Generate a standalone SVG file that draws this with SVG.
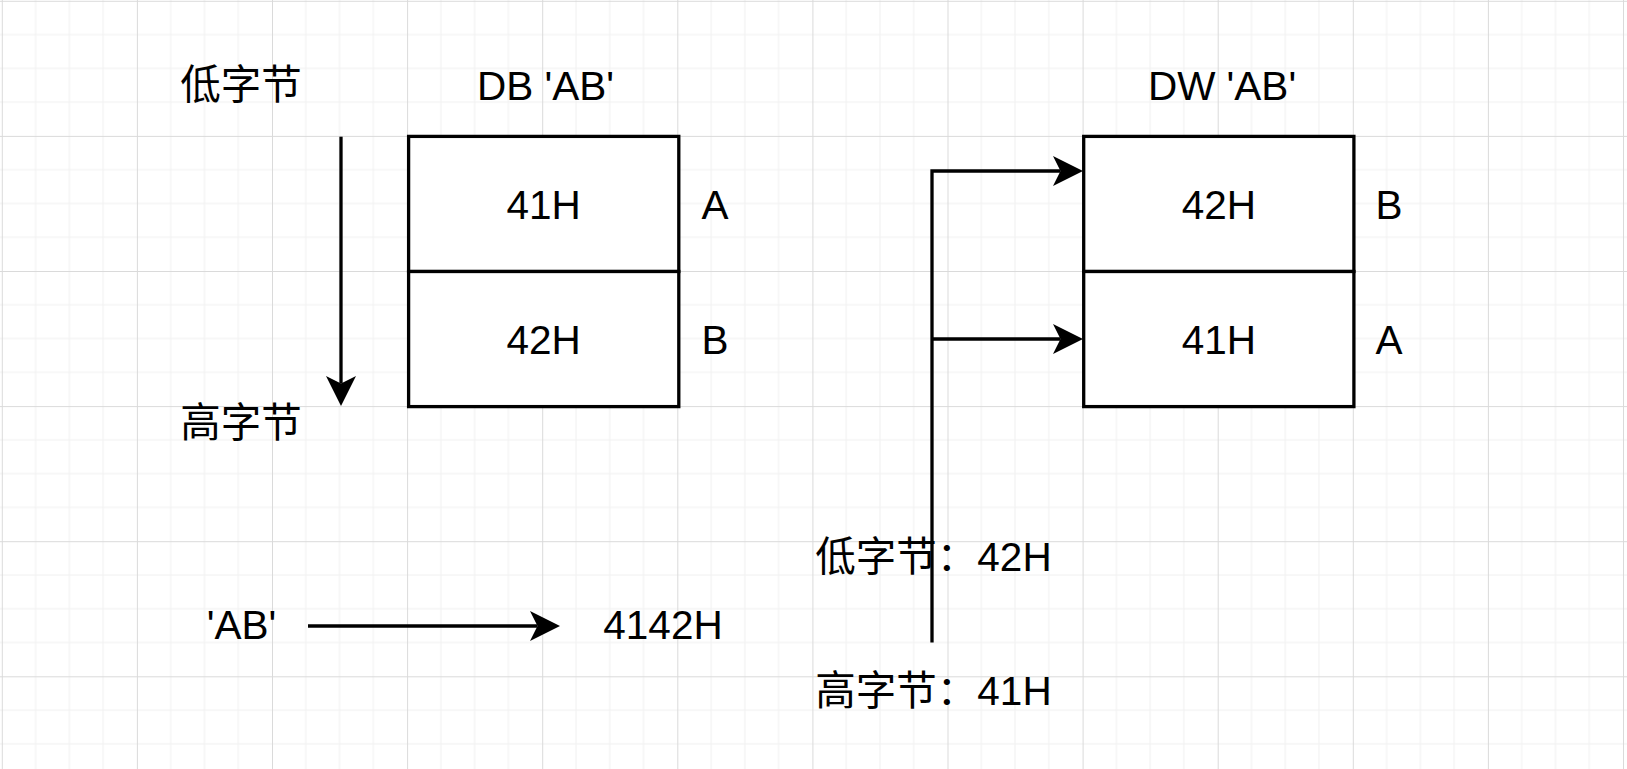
<svg xmlns="http://www.w3.org/2000/svg" width="1627" height="769" viewBox="0 0 1627 769">
<style>
.t{font-family:"Liberation Sans","Noto Sans CJK SC",Arial,sans-serif;font-size:40.5px;fill:#000}
.m{text-anchor:middle}
.box{fill:#fff;stroke:#000;stroke-width:3.3}
.ln{fill:none;stroke:#000;stroke-width:3.3;stroke-linejoin:miter}
.arr{marker-end:url(#ah)}
</style>
<defs>
<pattern id="grid" x="1.8" y="0.8" width="135.1" height="135.1" patternUnits="userSpaceOnUse">
<rect x="33.3" y="0" width="1" height="135.1" fill="#f0f0f0"/>
<rect x="67.05" y="0" width="1" height="135.1" fill="#f0f0f0"/>
<rect x="100.8" y="0" width="1" height="135.1" fill="#f0f0f0"/>
<rect x="0" y="33.3" width="135.1" height="1" fill="#f0f0f0"/>
<rect x="0" y="67.05" width="135.1" height="1" fill="#f0f0f0"/>
<rect x="0" y="100.8" width="135.1" height="1" fill="#f0f0f0"/>
<rect x="0" y="0" width="1" height="135.1" fill="#dadada"/>
<rect x="0" y="0" width="135.1" height="1" fill="#dadada"/>
</pattern>
<marker id="ah" viewBox="0 0 30 30" markerWidth="30" markerHeight="30" markerUnits="userSpaceOnUse" refX="7.5" refY="15" orient="auto">
<path d="M0,0 L30,15 L0,30 L7.5,15 Z" fill="#000"/>
</marker>
</defs>
<rect x="0" y="0" width="1627" height="769" fill="#fff"/>
<rect x="0" y="0" width="1627" height="769" fill="url(#grid)"/>

<g id="connectors">
<path class="ln arr" d="M341,136.7 V383.5"/>
<path class="ln arr" d="M308,626 H537.5"/>
<path class="ln arr" d="M932,642.5 V171 H1060.5"/>
<path class="ln arr" d="M932,339 H1060.5"/>
</g>

<g id="db-box">
<rect class="box" x="408.6" y="136.4" width="270.2" height="135.1"/>
<text class="t m" x="543.7" y="218.5">41H</text>
<rect class="box" x="408.6" y="271.5" width="270.2" height="135.1"/>
<text class="t m" x="543.7" y="353.5">42H</text>
</g>
<g id="db-title"><text class="t m" x="545.5" y="100">DB 'AB'</text></g>
<g id="db-labels">
<text class="t m" x="715" y="218.5">A</text>
<text class="t m" x="715" y="353.5">B</text>
</g>

<g id="dw-box">
<rect class="box" x="1083.7" y="136.4" width="270.2" height="135.1"/>
<text class="t m" x="1218.8" y="218.5">42H</text>
<rect class="box" x="1083.7" y="271.5" width="270.2" height="135.1"/>
<text class="t m" x="1218.8" y="353.5">41H</text>
</g>
<g id="dw-title"><text class="t m" x="1222" y="100">DW 'AB'</text></g>
<g id="dw-labels">
<text class="t m" x="1389" y="218.5">B</text>
<text class="t m" x="1389" y="353.5">A</text>
</g>

<g id="low-byte"><text class="t m" x="241" y="99">低字节</text></g>
<g id="high-byte"><text class="t m" x="241" y="436.5">高字节</text></g>
<g id="ab-src"><text class="t m" x="241.5" y="639">'AB'</text></g>
<g id="ab-val"><text class="t m" x="663" y="638.5">4142H</text></g>
<g id="dw-low"><text class="t m" x="933.5" y="570.5">低字节：42H</text></g>
<g id="dw-high"><text class="t m" x="933.5" y="705">高字节：41H</text></g>
</svg>
